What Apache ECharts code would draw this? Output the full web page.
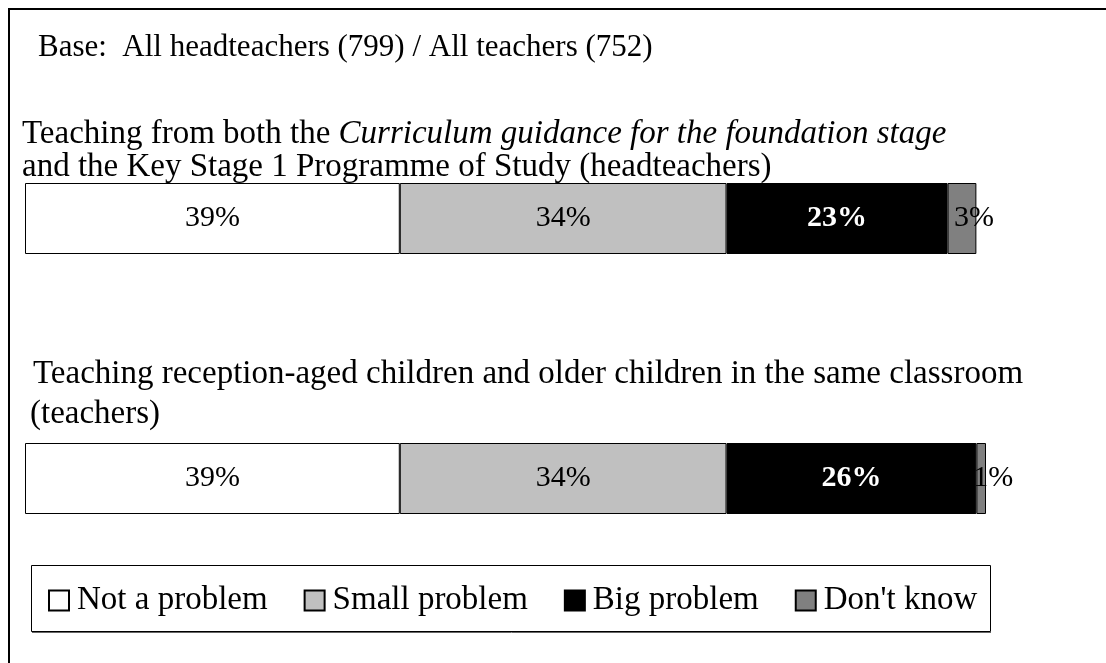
<!DOCTYPE html>
<html>
<head>
<meta charset="utf-8">
<script src="https://cdn.jsdelivr.net/npm/echarts@6/dist/echarts.min.js"></script>
<style>
  html, body { margin: 0; padding: 0; background: #fff; }
  #chart { width: 1106px; height: 663px; }
</style>
</head>
<body>
<div id="chart"></div>
<script>
// Survey groups (one stacked bar each)
const categories = ['Headteachers', 'Teachers'];
// Share of respondents per answer, in percent
const notProblem = [39, 39];
const smallProblem = [34, 34];
const bigProblem = [23, 26];
const dontKnow = [3, 1];
const seriesNames = ['Not a problem', 'Small problem', 'Big problem', "Don't know"];

const serif = '"Liberation Serif", "Times New Roman", serif';
const chart = echarts.init(document.getElementById('chart'));

function barSeries(name, data, fill, labelOpts) {
  return {
    name: name,
    type: 'bar',
    stack: 'total',
    data: data,
    barWidth: 71,
    itemStyle: { color: fill, borderColor: '#000', borderWidth: 1 },
    label: Object.assign({
      show: true,
      position: 'inside',
      formatter: '{c}%',
      fontFamily: serif,
      fontSize: 30,
      color: '#000'
    }, labelOpts || {}),
    emphasis: { disabled: true },
    animation: false
  };
}

chart.setOption({
  animation: false,
  grid: { left: 25, width: 961, top: 88.5, height: 520, containLabel: false },
  xAxis: { type: 'value', min: 0, max: 100, show: false },
  yAxis: { type: 'category', data: categories, inverse: true, show: false },
  legend: {
    data: seriesNames,
    left: 48,
    top: 584,
    padding: 0,
    itemGap: 36,
    itemWidth: 20,
    itemHeight: 20,
    icon: 'rect',
    textStyle: { fontFamily: serif, fontSize: 33, color: '#000', padding: [0, 0, 0, 3] },
    selectedMode: false
  },
  graphic: [
    // outer frame
    { type: 'rect', shape: { x: 9, y: 9, width: 1200, height: 800 },
      style: { fill: 'none', stroke: '#000', lineWidth: 2 }, silent: true },
    // legend box
    { type: 'rect', shape: { x: 31.5, y: 565.5, width: 959, height: 66 },
      style: { fill: 'none', stroke: '#000', lineWidth: 1 }, silent: true },
    { type: 'line', shape: { x1: 32, y1: 632.5, x2: 991, y2: 632.5 },
      style: { stroke: '#666', lineWidth: 1 }, silent: true },
    { type: 'text', x: 38, y: 63,
      style: { text: 'Base:  All headteachers (799) / All teachers (752)', font: '31px ' + serif,
               fill: '#000', textVerticalAlign: 'bottom' } },
    { type: 'text', x: 22, y: 151,
      style: {
        text: '{n|Teaching from both the }{i|Curriculum guidance for the foundation stage}',
        fill: '#000', textVerticalAlign: 'bottom',
        rich: {
          n: { fontFamily: serif, fontSize: 33, fill: '#000' },
          i: { fontFamily: serif, fontSize: 33, fontStyle: 'italic', fill: '#000' }
        }
      } },
    { type: 'text', x: 22, y: 184,
      style: { text: 'and the Key Stage 1 Programme of Study (headteachers)', font: '33px ' + serif,
               fill: '#000', textVerticalAlign: 'bottom' } },
    { type: 'text', x: 33, y: 391,
      style: { text: 'Teaching reception-aged children and older children in the same classroom', font: '33px ' + serif,
               fill: '#000', textVerticalAlign: 'bottom' } },
    { type: 'text', x: 30, y: 431,
      style: { text: '(teachers)', font: '33px ' + serif,
               fill: '#000', textVerticalAlign: 'bottom' } }
  ],
  series: [
    barSeries(seriesNames[0], notProblem, '#ffffff'),
    barSeries(seriesNames[1], smallProblem, '#c0c0c0'),
    barSeries(seriesNames[2], bigProblem, '#000000', { color: '#fff', fontWeight: 'bold' }),
    barSeries(seriesNames[3], dontKnow, '#808080', { offset: [12, 0] })
  ]
});
</script>
</body>
</html>
